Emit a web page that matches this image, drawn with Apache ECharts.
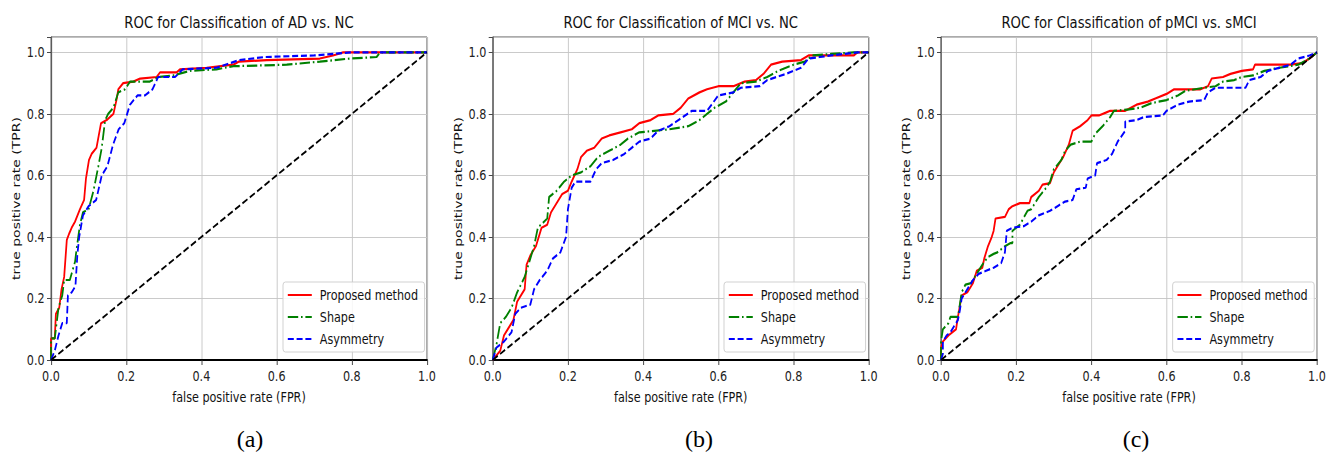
<!DOCTYPE html>
<html>
<head>
<meta charset="utf-8">
<script src="https://cdn.jsdelivr.net/npm/echarts@6/dist/echarts.min.js"></script>
<style>
html,body{margin:0;padding:0;background:#fff;overflow:hidden;width:1336px;height:453px;}
#chart{width:1670px;height:453px;transform:scaleX(0.8);transform-origin:0 0;}
</style>
</head>
<body>
<div id="chart"></div>
<script>
// ---------------- data ----------------
const panelTitles = ['ROC for Classification of AD vs. NC', 'ROC for Classification of MCI vs. NC', 'ROC for Classification of pMCI vs. sMCI'];
const panelCaptions = ['(a)', '(b)', '(c)'];
const seriesNames = ['Proposed method', 'Shape', 'Asymmetry'];
const xAxisName = 'false positive rate (FPR)';
const yAxisName = 'true positive rate (TPR)';
const tickValues = [0, 0.2, 0.4, 0.6, 0.8, 1.0];
const chanceLine = [[0, 0], [1, 1]];

const adProposed = [[0,0],[0,0.07],[0.01,0.07],[0.013,0.15],[0.022,0.17],[0.028,0.23],[0.035,0.27],[0.042,0.39],[0.048,0.41],[0.055,0.43],[0.064,0.45],[0.077,0.49],[0.088,0.52],[0.093,0.59],[0.101,0.65],[0.108,0.67],[0.121,0.69],[0.133,0.77],[0.148,0.78],[0.166,0.80],[0.175,0.85],[0.179,0.88],[0.192,0.90],[0.219,0.905],[0.237,0.915],[0.281,0.92],[0.29,0.935],[0.334,0.935],[0.343,0.945],[0.414,0.95],[0.485,0.96],[0.50,0.97],[0.574,0.975],[0.715,0.98],[0.75,0.99],[0.777,1.0],[1,1]];
const adShape = [[0,0],[0,0.07],[0.01,0.07],[0.02,0.17],[0.03,0.21],[0.035,0.26],[0.05,0.26],[0.064,0.32],[0.068,0.36],[0.077,0.44],[0.085,0.48],[0.1,0.49],[0.113,0.55],[0.126,0.63],[0.135,0.69],[0.144,0.78],[0.152,0.80],[0.166,0.82],[0.179,0.87],[0.197,0.88],[0.21,0.905],[0.263,0.905],[0.285,0.92],[0.325,0.925],[0.37,0.94],[0.44,0.945],[0.485,0.955],[0.627,0.96],[0.715,0.97],[0.795,0.98],[0.866,0.985],[0.875,1.0],[1,1]];
const adAsymmetry = [[0,0],[0.01,0.03],[0.02,0.08],[0.03,0.12],[0.042,0.12],[0.045,0.21],[0.055,0.22],[0.065,0.24],[0.07,0.34],[0.075,0.40],[0.085,0.47],[0.1,0.50],[0.12,0.52],[0.135,0.60],[0.15,0.63],[0.165,0.70],[0.18,0.75],[0.195,0.77],[0.21,0.83],[0.23,0.86],[0.25,0.86],[0.27,0.88],[0.285,0.92],[0.33,0.92],[0.35,0.945],[0.44,0.95],[0.5,0.975],[0.57,0.985],[0.7,0.99],[0.8,1.0],[1,1]];

const mciProposed = [[0,0],[0.02,0.03],[0.03,0.08],[0.04,0.10],[0.055,0.13],[0.065,0.19],[0.085,0.23],[0.09,0.31],[0.1,0.34],[0.115,0.37],[0.13,0.43],[0.145,0.44],[0.155,0.48],[0.17,0.51],[0.185,0.54],[0.2,0.55],[0.21,0.58],[0.225,0.62],[0.235,0.66],[0.25,0.68],[0.27,0.69],[0.29,0.72],[0.31,0.73],[0.34,0.74],[0.37,0.75],[0.39,0.77],[0.42,0.78],[0.44,0.795],[0.48,0.80],[0.5,0.82],[0.52,0.85],[0.55,0.87],[0.57,0.88],[0.6,0.89],[0.64,0.89],[0.67,0.905],[0.7,0.91],[0.72,0.93],[0.74,0.96],[0.77,0.97],[0.82,0.975],[0.84,0.99],[0.96,0.99],[0.97,1.0],[1,1]];
const mciShape = [[0,0],[0.01,0.05],[0.02,0.12],[0.035,0.14],[0.05,0.17],[0.065,0.22],[0.085,0.27],[0.1,0.33],[0.11,0.37],[0.12,0.43],[0.145,0.46],[0.15,0.53],[0.17,0.55],[0.19,0.58],[0.21,0.60],[0.235,0.61],[0.26,0.63],[0.28,0.66],[0.31,0.68],[0.34,0.70],[0.36,0.72],[0.39,0.74],[0.43,0.745],[0.47,0.75],[0.52,0.76],[0.55,0.78],[0.57,0.80],[0.59,0.82],[0.62,0.84],[0.64,0.87],[0.66,0.90],[0.7,0.905],[0.73,0.92],[0.76,0.94],[0.8,0.96],[0.83,0.97],[0.85,0.99],[0.9,0.995],[0.96,1.0],[1,1]];
const mciAsymmetry = [[0,0],[0.01,0.04],[0.03,0.06],[0.05,0.09],[0.06,0.15],[0.075,0.17],[0.1,0.18],[0.11,0.23],[0.125,0.26],[0.145,0.29],[0.16,0.33],[0.18,0.35],[0.195,0.40],[0.2,0.49],[0.21,0.56],[0.22,0.58],[0.26,0.58],[0.275,0.62],[0.29,0.64],[0.32,0.65],[0.35,0.67],[0.37,0.69],[0.39,0.71],[0.42,0.72],[0.44,0.745],[0.47,0.76],[0.5,0.785],[0.53,0.81],[0.57,0.81],[0.6,0.86],[0.64,0.87],[0.66,0.885],[0.71,0.89],[0.73,0.91],[0.78,0.93],[0.82,0.95],[0.84,0.98],[0.87,0.985],[0.9,0.99],[0.97,1.0],[1,1]];

const pmciProposed = [[0,0],[0,0.04],[0.005,0.06],[0.02,0.08],[0.03,0.09],[0.04,0.10],[0.045,0.14],[0.055,0.21],[0.07,0.22],[0.085,0.25],[0.095,0.29],[0.11,0.30],[0.115,0.33],[0.125,0.37],[0.135,0.40],[0.14,0.42],[0.145,0.46],[0.17,0.465],[0.18,0.49],[0.19,0.50],[0.21,0.51],[0.235,0.51],[0.24,0.53],[0.26,0.55],[0.27,0.57],[0.29,0.575],[0.3,0.61],[0.31,0.63],[0.325,0.66],[0.34,0.70],[0.35,0.745],[0.37,0.76],[0.39,0.78],[0.4,0.795],[0.42,0.795],[0.44,0.805],[0.45,0.81],[0.49,0.81],[0.52,0.83],[0.55,0.84],[0.57,0.85],[0.6,0.865],[0.62,0.88],[0.69,0.88],[0.71,0.89],[0.72,0.915],[0.75,0.92],[0.77,0.93],[0.8,0.94],[0.83,0.945],[0.835,0.96],[0.93,0.96],[0.96,0.965],[0.98,0.98],[1,1]];
const pmciShape = [[0,0],[0,0.06],[0.005,0.10],[0.02,0.12],[0.025,0.14],[0.045,0.14],[0.05,0.18],[0.055,0.22],[0.065,0.245],[0.08,0.25],[0.09,0.27],[0.1,0.29],[0.11,0.31],[0.125,0.335],[0.14,0.345],[0.15,0.35],[0.17,0.37],[0.185,0.38],[0.19,0.38],[0.19,0.42],[0.21,0.44],[0.23,0.485],[0.24,0.49],[0.26,0.53],[0.28,0.56],[0.29,0.58],[0.3,0.62],[0.32,0.65],[0.33,0.68],[0.345,0.70],[0.37,0.71],[0.4,0.71],[0.41,0.735],[0.43,0.76],[0.45,0.79],[0.46,0.81],[0.5,0.815],[0.53,0.82],[0.56,0.835],[0.6,0.845],[0.63,0.86],[0.65,0.875],[0.7,0.885],[0.73,0.89],[0.75,0.905],[0.78,0.91],[0.8,0.92],[0.83,0.925],[0.86,0.94],[0.9,0.95],[0.95,0.96],[0.98,0.98],[1,1]];
const pmciAsymmetry = [[0,0],[0.005,0.02],[0.005,0.06],[0.015,0.08],[0.025,0.09],[0.035,0.11],[0.045,0.13],[0.05,0.16],[0.055,0.20],[0.065,0.22],[0.075,0.24],[0.085,0.26],[0.1,0.28],[0.12,0.29],[0.14,0.30],[0.16,0.315],[0.17,0.35],[0.175,0.42],[0.19,0.43],[0.22,0.435],[0.24,0.45],[0.26,0.47],[0.29,0.485],[0.31,0.50],[0.33,0.515],[0.35,0.52],[0.36,0.555],[0.385,0.56],[0.39,0.59],[0.41,0.60],[0.415,0.64],[0.44,0.65],[0.455,0.67],[0.47,0.71],[0.49,0.745],[0.49,0.775],[0.52,0.78],[0.54,0.79],[0.59,0.795],[0.6,0.81],[0.63,0.83],[0.66,0.84],[0.7,0.845],[0.71,0.87],[0.73,0.885],[0.81,0.885],[0.82,0.91],[0.85,0.92],[0.87,0.94],[0.93,0.96],[0.95,0.98],[0.98,0.99],[1,1]];

const panelData = [
  [adProposed, adShape, adAsymmetry],
  [mciProposed, mciShape, mciAsymmetry],
  [pmciProposed, pmciShape, pmciAsymmetry]
];

// ---------------- styling / layout ----------------
const FONT = 'DejaVu Sans';
const colors = ['#ff0000', '#008000', '#0000ff'];
const dashes = ['solid', [13, 3.5, 2, 3.5], [7.5, 3.5]];
const gridLefts = [63.75, 615.9, 1176.25];
const gridWidth = 470;
const gridTop = 37;
const gridHeight = 323;
const legendLefts = [353.75, 905, 1465.8];
const captionX = [312.5, 873.75, 1420];

function tickFmt(v) {
  return Math.abs(v * 5 - Math.round(v * 5)) < 1e-6 ? v.toFixed(1) : '';
}

const option = {
  animation: false,
  backgroundColor: '#fff',
  title: panelTitles.map((t, i) => ({
    text: t,
    left: gridLefts[i] + gridWidth / 2,
    top: 14,
    padding: 0,
    textAlign: 'center',
    textStyle: { fontFamily: FONT, fontSize: 16.5, fontWeight: 'normal', color: '#111' }
  })),
  legend: legendLefts.map((l) => ({
    data: seriesNames,
    orient: 'vertical',
    left: l,
    top: 282,
    itemWidth: 30,
    itemHeight: 14,
    itemGap: 6,
    padding: [5, 8, 5, 5],
    backgroundColor: 'rgba(255,255,255,0.85)',
    borderColor: '#cccccc',
    borderWidth: 1,
    borderRadius: 3,
    itemStyle: { opacity: 0 },
    lineStyle: { width: 2 },
    textStyle: { fontFamily: FONT, fontSize: 14, color: '#111', lineHeight: 16, padding: [0, 0, 0, 5] }
  })),
  grid: gridLefts.map((l) => ({
    left: l, top: gridTop, width: gridWidth, height: gridHeight,
    show: true, borderColor: '#444', borderWidth: 1, backgroundColor: 'transparent'
  })),
  xAxis: gridLefts.map((l, i) => ({
    type: 'value', gridIndex: i, min: 0, max: 1, interval: 0.2,
    name: xAxisName, nameLocation: 'middle', nameGap: 30,
    nameTextStyle: { fontFamily: FONT, fontSize: 14, color: '#111' },
    axisLine: { show: true, onZero: false, lineStyle: { color: '#000', width: 2 } },
    axisTick: { show: true, length: 5, lineStyle: { color: '#333' } },
    axisLabel: { fontFamily: FONT, fontSize: 14, color: '#222', margin: 9, formatter: tickFmt, showMaxLabel: true, showMinLabel: true },
    splitLine: { show: true, lineStyle: { color: '#c4c4c4', width: 1 } }
  })),
  yAxis: gridLefts.map((l, i) => ({
    type: 'value', gridIndex: i, min: 0, max: 1.05, interval: 0.2,
    name: yAxisName, nameLocation: 'middle', nameGap: 37,
    nameTextStyle: { fontFamily: FONT, fontSize: 14, color: '#111' },
    axisLine: { show: true, lineStyle: { color: '#444', width: 1 } },
    axisTick: { show: true, length: 5, lineStyle: { color: '#333' } },
    axisLabel: { fontFamily: FONT, fontSize: 14, color: '#222', margin: 8, formatter: tickFmt },
    splitLine: { show: true, lineStyle: { color: '#c4c4c4', width: 1 } }
  })),
  graphic: panelCaptions.map((c, i) => ({
    type: 'text',
    x: captionX[i],
    y: 439,
    scaleX: 1.25,
    silent: true,
    style: { text: c, x: 0, y: 0, align: 'center', verticalAlign: 'middle', font: '24px "Liberation Serif", "DejaVu Serif", serif', fill: '#000' }
  })),
  series: []
};

panelData.forEach((curves, i) => {
  curves.forEach((data, k) => {
    option.series.push({
      type: 'line', name: seriesNames[k], xAxisIndex: i, yAxisIndex: i,
      data: data, symbol: 'none', showSymbol: false, silent: true,
      color: colors[k],
      lineStyle: { color: colors[k], width: 2.2, type: dashes[k] },
      z: 3 + k
    });
  });
  option.series.push({
    type: 'line', name: 'chance', xAxisIndex: i, yAxisIndex: i,
    data: chanceLine, symbol: 'none', showSymbol: false, silent: true,
    lineStyle: { color: '#000', width: 2, type: [7.5, 3.5] }, z: 7
  });
});

const chart = echarts.init(document.getElementById('chart'), null, { renderer: 'svg', width: 1670, height: 453 });
chart.setOption(option);
</script>
</body>
</html>
